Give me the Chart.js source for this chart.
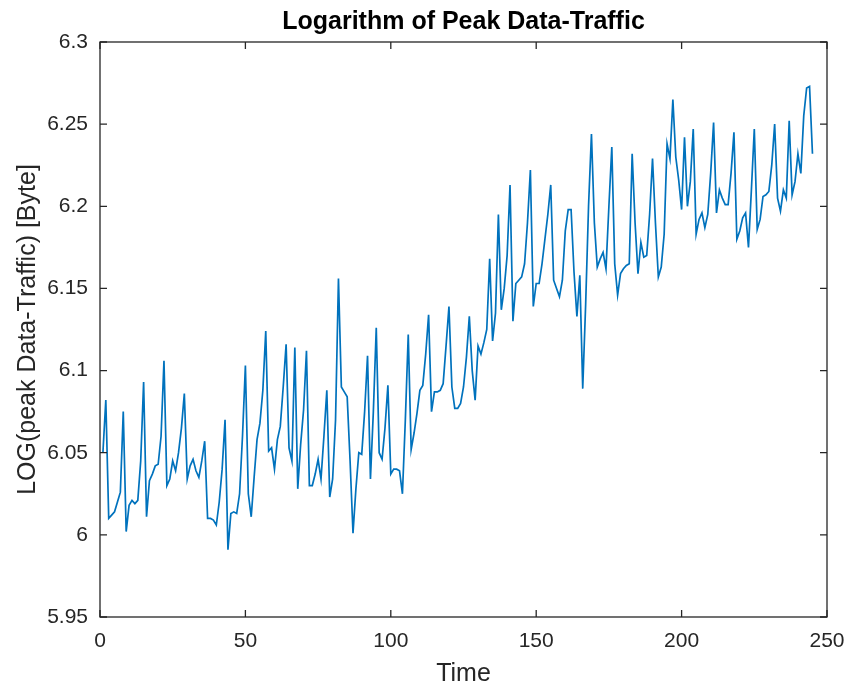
<!DOCTYPE html>
<html>
<head>
<meta charset="utf-8">
<title>Logarithm of Peak Data-Traffic</title>
<script src="https://cdn.jsdelivr.net/npm/chart.js"></script>
<style>
  body { margin: 0; background: #fff; }
  #chart { display: block; }
</style>
</head>
<body>
<canvas id="chart" width="848" height="687"></canvas>
<script>
// daily peak traffic, log10 of bytes
const peak_log = [
  6.050, 6.082, 6.010, 6.012, 6.014, 6.020, 6.026, 6.075, 6.002, 6.018,
  6.021, 6.019, 6.021, 6.045, 6.093, 6.011, 6.033, 6.037, 6.042, 6.043,
  6.060, 6.106, 6.030, 6.034, 6.045, 6.039, 6.050, 6.065, 6.086, 6.034,
  6.042, 6.046, 6.039, 6.035, 6.045, 6.057, 6.010, 6.010, 6.009, 6.006,
  6.020, 6.040, 6.070, 5.991, 6.013, 6.014, 6.013, 6.025, 6.060, 6.103,
  6.025, 6.011, 6.035, 6.058, 6.068, 6.088, 6.124, 6.051, 6.053, 6.040,
  6.058, 6.066, 6.090, 6.116, 6.053, 6.045, 6.114, 6.028, 6.055, 6.076,
  6.112, 6.030, 6.030, 6.037, 6.046, 6.034, 6.060, 6.088, 6.023, 6.034,
  6.070, 6.156, 6.090, 6.087, 6.084, 6.045, 6.001, 6.028, 6.050, 6.049,
  6.075, 6.109, 6.034, 6.075, 6.126, 6.050, 6.046, 6.065, 6.091, 6.037,
  6.040, 6.040, 6.039, 6.025, 6.070, 6.122, 6.052, 6.062, 6.074, 6.088,
  6.091, 6.110, 6.134, 6.075, 6.087, 6.087, 6.088, 6.092, 6.115, 6.139,
  6.090, 6.077, 6.077, 6.080, 6.090, 6.108, 6.133, 6.100, 6.082, 6.115,
  6.110, 6.117, 6.125, 6.168, 6.118, 6.135, 6.195, 6.137, 6.150, 6.170,
  6.213, 6.130, 6.153, 6.155, 6.157, 6.165, 6.190, 6.222, 6.139, 6.153,
  6.153, 6.165, 6.180, 6.195, 6.213, 6.155, 6.150, 6.145, 6.155, 6.185,
  6.198, 6.198, 6.160, 6.133, 6.158, 6.089, 6.140, 6.200, 6.244, 6.190,
  6.163, 6.168, 6.172, 6.162, 6.200, 6.236, 6.165, 6.146, 6.159, 6.162,
  6.164, 6.165, 6.232, 6.190, 6.159, 6.178, 6.169, 6.170, 6.195, 6.229,
  6.190, 6.157, 6.163, 6.183, 6.238, 6.229, 6.265, 6.230, 6.216, 6.198,
  6.242, 6.200, 6.215, 6.247, 6.183, 6.192, 6.196, 6.187, 6.195, 6.220,
  6.251, 6.196, 6.210, 6.205, 6.201, 6.201, 6.220, 6.245, 6.180, 6.185,
  6.193, 6.196, 6.175, 6.210, 6.247, 6.186, 6.192, 6.206, 6.207, 6.209,
  6.225, 6.250, 6.205, 6.197, 6.210, 6.205, 6.252, 6.207, 6.215, 6.232,
  6.220, 6.255, 6.272, 6.273, 6.232
]

const time_ticks = [0, 50, 100, 150, 200, 250]
const log_ticks = ['5.95', '6', '6.05', '6.1', '6.15', '6.2', '6.25', '6.3']

const axis_color = '#262626'
const font_family = '"Liberation Sans", Arial, Helvetica, sans-serif'

// x is just the day number, starting at 1
const points = peak_log.map((v, i) => ({ x: i + 1, y: v }))

// box around the axes with short ticks pointing inwards
const axes_box = {
  id: 'axes_box',
  afterDatasetsDraw(chart) {
    const ctx = chart.ctx
    const a = chart.chartArea
    const x = chart.scales.x
    const y = chart.scales.y
    const len = 7
    ctx.save()
    ctx.strokeStyle = axis_color
    ctx.lineWidth = 1.3
    ctx.strokeRect(a.left, a.top, a.right - a.left, a.bottom - a.top)
    ctx.beginPath()
    x.ticks.forEach(t => {
      const px = x.getPixelForValue(t.value)
      ctx.moveTo(px, a.bottom)
      ctx.lineTo(px, a.bottom - len)
      ctx.moveTo(px, a.top)
      ctx.lineTo(px, a.top + len)
    })
    y.ticks.forEach(t => {
      const py = y.getPixelForValue(t.value)
      ctx.moveTo(a.left, py)
      ctx.lineTo(a.left + len, py)
      ctx.moveTo(a.right, py)
      ctx.lineTo(a.right - len, py)
    })
    ctx.stroke()
    ctx.restore()
  }
}

const chart = new Chart(document.getElementById('chart'), {
  type: 'line',
  data: {
    datasets: [{
      data: points,
      borderColor: '#0072BD',
      borderWidth: 1.7,
      pointRadius: 0,
      tension: 0,
      fill: false
    }]
  },
  options: {
    responsive: false,
    animation: false,
    layout: { padding: { left: 0, right: 21, top: 0, bottom: 0 } },
    plugins: {
      legend: { display: false },
      tooltip: { enabled: false }
    },
    scales: {
      x: {
        type: 'linear',
        min: time_ticks[0],
        max: time_ticks[time_ticks.length - 1],
        afterFit: s => {
          s.height = 70
          s.paddingLeft = 0
          s.paddingRight = 0
        },
        afterBuildTicks: s => { s.ticks = time_ticks.map(v => ({ value: v })) },
        grid: { display: false, drawTicks: false },
        border: { display: false },
        ticks: {
          color: axis_color,
          padding: 12,
          font: { family: font_family, size: 21 },
          callback: v => String(v)
        },
        title: {
          display: true,
          text: 'Time',
          color: axis_color,
          font: { family: font_family, size: 25, lineHeight: 1 },
          padding: { top: 0, bottom: 0 }
        }
      },
      // top axis only carries the chart title, centred over the plot box
      top: {
        type: 'linear',
        position: 'top',
        min: time_ticks[0],
        max: time_ticks[time_ticks.length - 1],
        afterFit: s => {
          s.height = 42
          s.paddingLeft = 0
          s.paddingRight = 0
        },
        grid: { display: false, drawTicks: false },
        border: { display: false },
        ticks: { display: false },
        title: {
          display: true,
          text: 'Logarithm of Peak Data-Traffic',
          color: '#000',
          font: { family: font_family, size: 25, weight: 'bold', lineHeight: 1.2 },
          padding: { top: 7, bottom: 0 }
        }
      },
      y: {
        min: 5.95,
        max: 6.3,
        afterFit: s => { s.width = 100 },
        afterBuildTicks: s => {
          s.ticks = log_ticks.map(l => ({ value: parseFloat(l) }))
        },
        grid: { display: false, drawTicks: false },
        border: { display: false },
        ticks: {
          color: axis_color,
          padding: 12,
          font: { family: font_family, size: 21 },
          callback: (v, i) => log_ticks[i]
        },
        title: {
          display: true,
          text: 'LOG(peak Data-Traffic) [Byte]',
          color: axis_color,
          font: { family: font_family, size: 25, lineHeight: 1.2 },
          padding: { top: 13, bottom: 0 }
        }
      }
    }
  },
  plugins: [axes_box]
})
</script>
</body>
</html>
